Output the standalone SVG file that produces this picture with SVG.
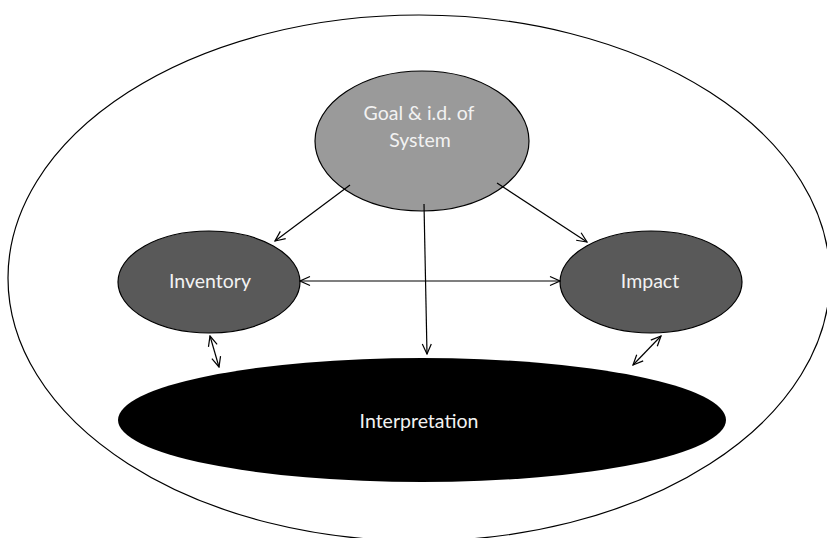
<svg xmlns="http://www.w3.org/2000/svg" width="827" height="538" viewBox="0 0 827 538">
<defs>
<style>
.lbl{font-family:Lato,"Open Sans","Liberation Sans",sans-serif;font-size:19.5px;fill:#f2f2f2;text-anchor:middle}
.node{stroke:#000;stroke-width:1.2}
.conn line{stroke:#000;stroke-width:1.2;fill:none}
</style>
<marker id="ah" viewBox="0 0 12 12" refX="11" refY="6" markerWidth="12" markerHeight="12" markerUnits="userSpaceOnUse" orient="auto-start-reverse">
<polyline points="1,1.5 11,6 1,10.5" fill="none" stroke="#000" stroke-width="1.2"/>
</marker>
</defs>
<rect width="827" height="538" fill="#fff"/>
<g id="boundary"><ellipse cx="419" cy="278" rx="411" ry="263" fill="none" stroke="#000" stroke-width="1.2"/></g>
<g id="goal"><ellipse class="node" cx="422" cy="141" rx="107" ry="70" fill="#9a9a9a"/>
<text class="lbl" x="419" y="120">Goal &amp; i.d. of</text><text class="lbl" x="420" y="147">System</text></g>
<g id="inventory"><ellipse class="node" cx="209" cy="282" rx="91" ry="51" fill="#595959"/><text class="lbl" x="210" y="288">Inventory</text></g>
<g id="impact"><ellipse class="node" cx="651" cy="282" rx="91" ry="51" fill="#595959"/><text class="lbl" x="650" y="288">Impact</text></g>
<g id="interpretation"><ellipse cx="422" cy="420" rx="304" ry="62" fill="#000"/><text class="lbl" x="419" y="428">Interpretation</text></g>
<g class="conn" id="connectors">
<line x1="350" y1="185" x2="275" y2="241" marker-end="url(#ah)"/>
<line x1="497" y1="183" x2="587" y2="242" marker-end="url(#ah)"/>
<line x1="424" y1="204" x2="427" y2="354" marker-end="url(#ah)"/>
<line x1="300" y1="281" x2="560" y2="281" marker-start="url(#ah)" marker-end="url(#ah)"/>
<line x1="210" y1="336" x2="219" y2="367" marker-start="url(#ah)" marker-end="url(#ah)"/>
<line x1="661" y1="336" x2="633" y2="365" marker-start="url(#ah)" marker-end="url(#ah)"/>
</g>
</svg>
